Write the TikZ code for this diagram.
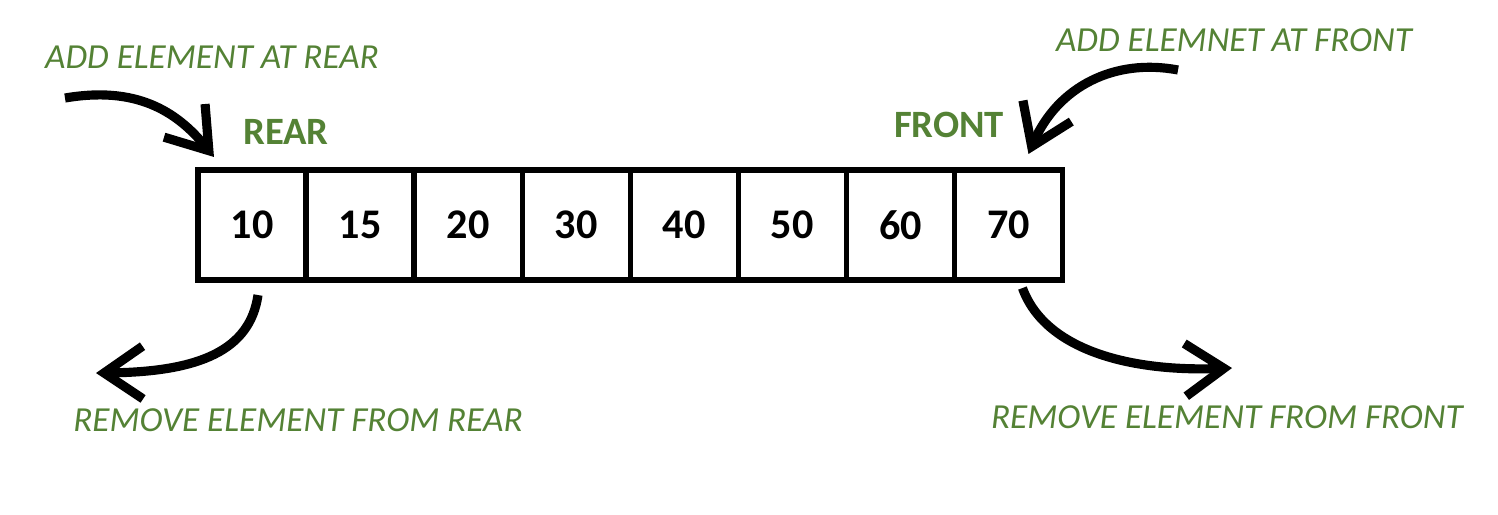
\documentclass[tikz,border=0pt]{standalone}
\usepackage{fontspec}
\setmainfont{Carlito}
\usepackage{tikz}
\usetikzlibrary{arrows.meta,positioning}
\definecolor{labelgreen}{RGB}{84,130,53}

\begin{document}
\begin{tikzpicture}[x=0.01cm,y=-0.01cm,
  cell/.style={draw,line width=1.5pt,outer sep=0pt,minimum width=1.08cm,minimum height=1.1cm,inner sep=0pt,font=\bfseries\fontsize{12}{14}\selectfont},
  tag/.style={labelgreen,inner sep=0pt,font=\bfseries\fontsize{11}{13}\selectfont},
  note/.style={labelgreen,inner sep=0pt,font=\itshape\fontsize{10}{12}\selectfont},
  curvearrow/.style={line width=2.6pt,-{Straight Barb[length=11pt,width=15pt]}}]
\useasboundingbox (0,0) rectangle (1498,514);
% the deque
\node[cell] (c1) at (252,225) {10};
\foreach \v/\i/\j in {15/2/1,20/3/2,30/4/3,40/5/4,50/6/5,60/7/6,70/8/7}
  \node[cell,right=0pt of c\j] (c\i) {\v};
\node[tag] (rear) at (286,132) {REAR};
\node[tag] (front) at (949,125) {FRONT};
% operations
\node[note] (addrear) at (212,57) {ADD ELEMENT AT REAR};
\node[note] (addfront) at (1234,40) {ADD ELEMNET AT FRONT};
\node[note] (delrear) at (298,420) {REMOVE ELEMENT FROM REAR};
\node[note] (delfront) at (1227,417) {REMOVE ELEMENT FROM FRONT};
\coordinate (inrear) at (65,98);
\coordinate (infront) at (1178,70);
\coordinate (outrear) at (96,373);
\coordinate (outfront) at (1232,368);
\draw[curvearrow] (inrear) .. controls (135,86) and (176,110) .. ([shift={(16,-13)}]c1.north west);
\draw[curvearrow] (infront) .. controls (1115,58) and (1058,86) .. ([shift={(-34,-16)}]c8.north east);
\draw[curvearrow] ([shift={(6,15)}]c1.south) .. controls (250,350) and (200,372) .. (outrear);
\draw[curvearrow] ([shift={(14,8)}]c8.south) .. controls (1045,350) and (1130,372) .. (outfront);
\end{tikzpicture}
\end{document}
